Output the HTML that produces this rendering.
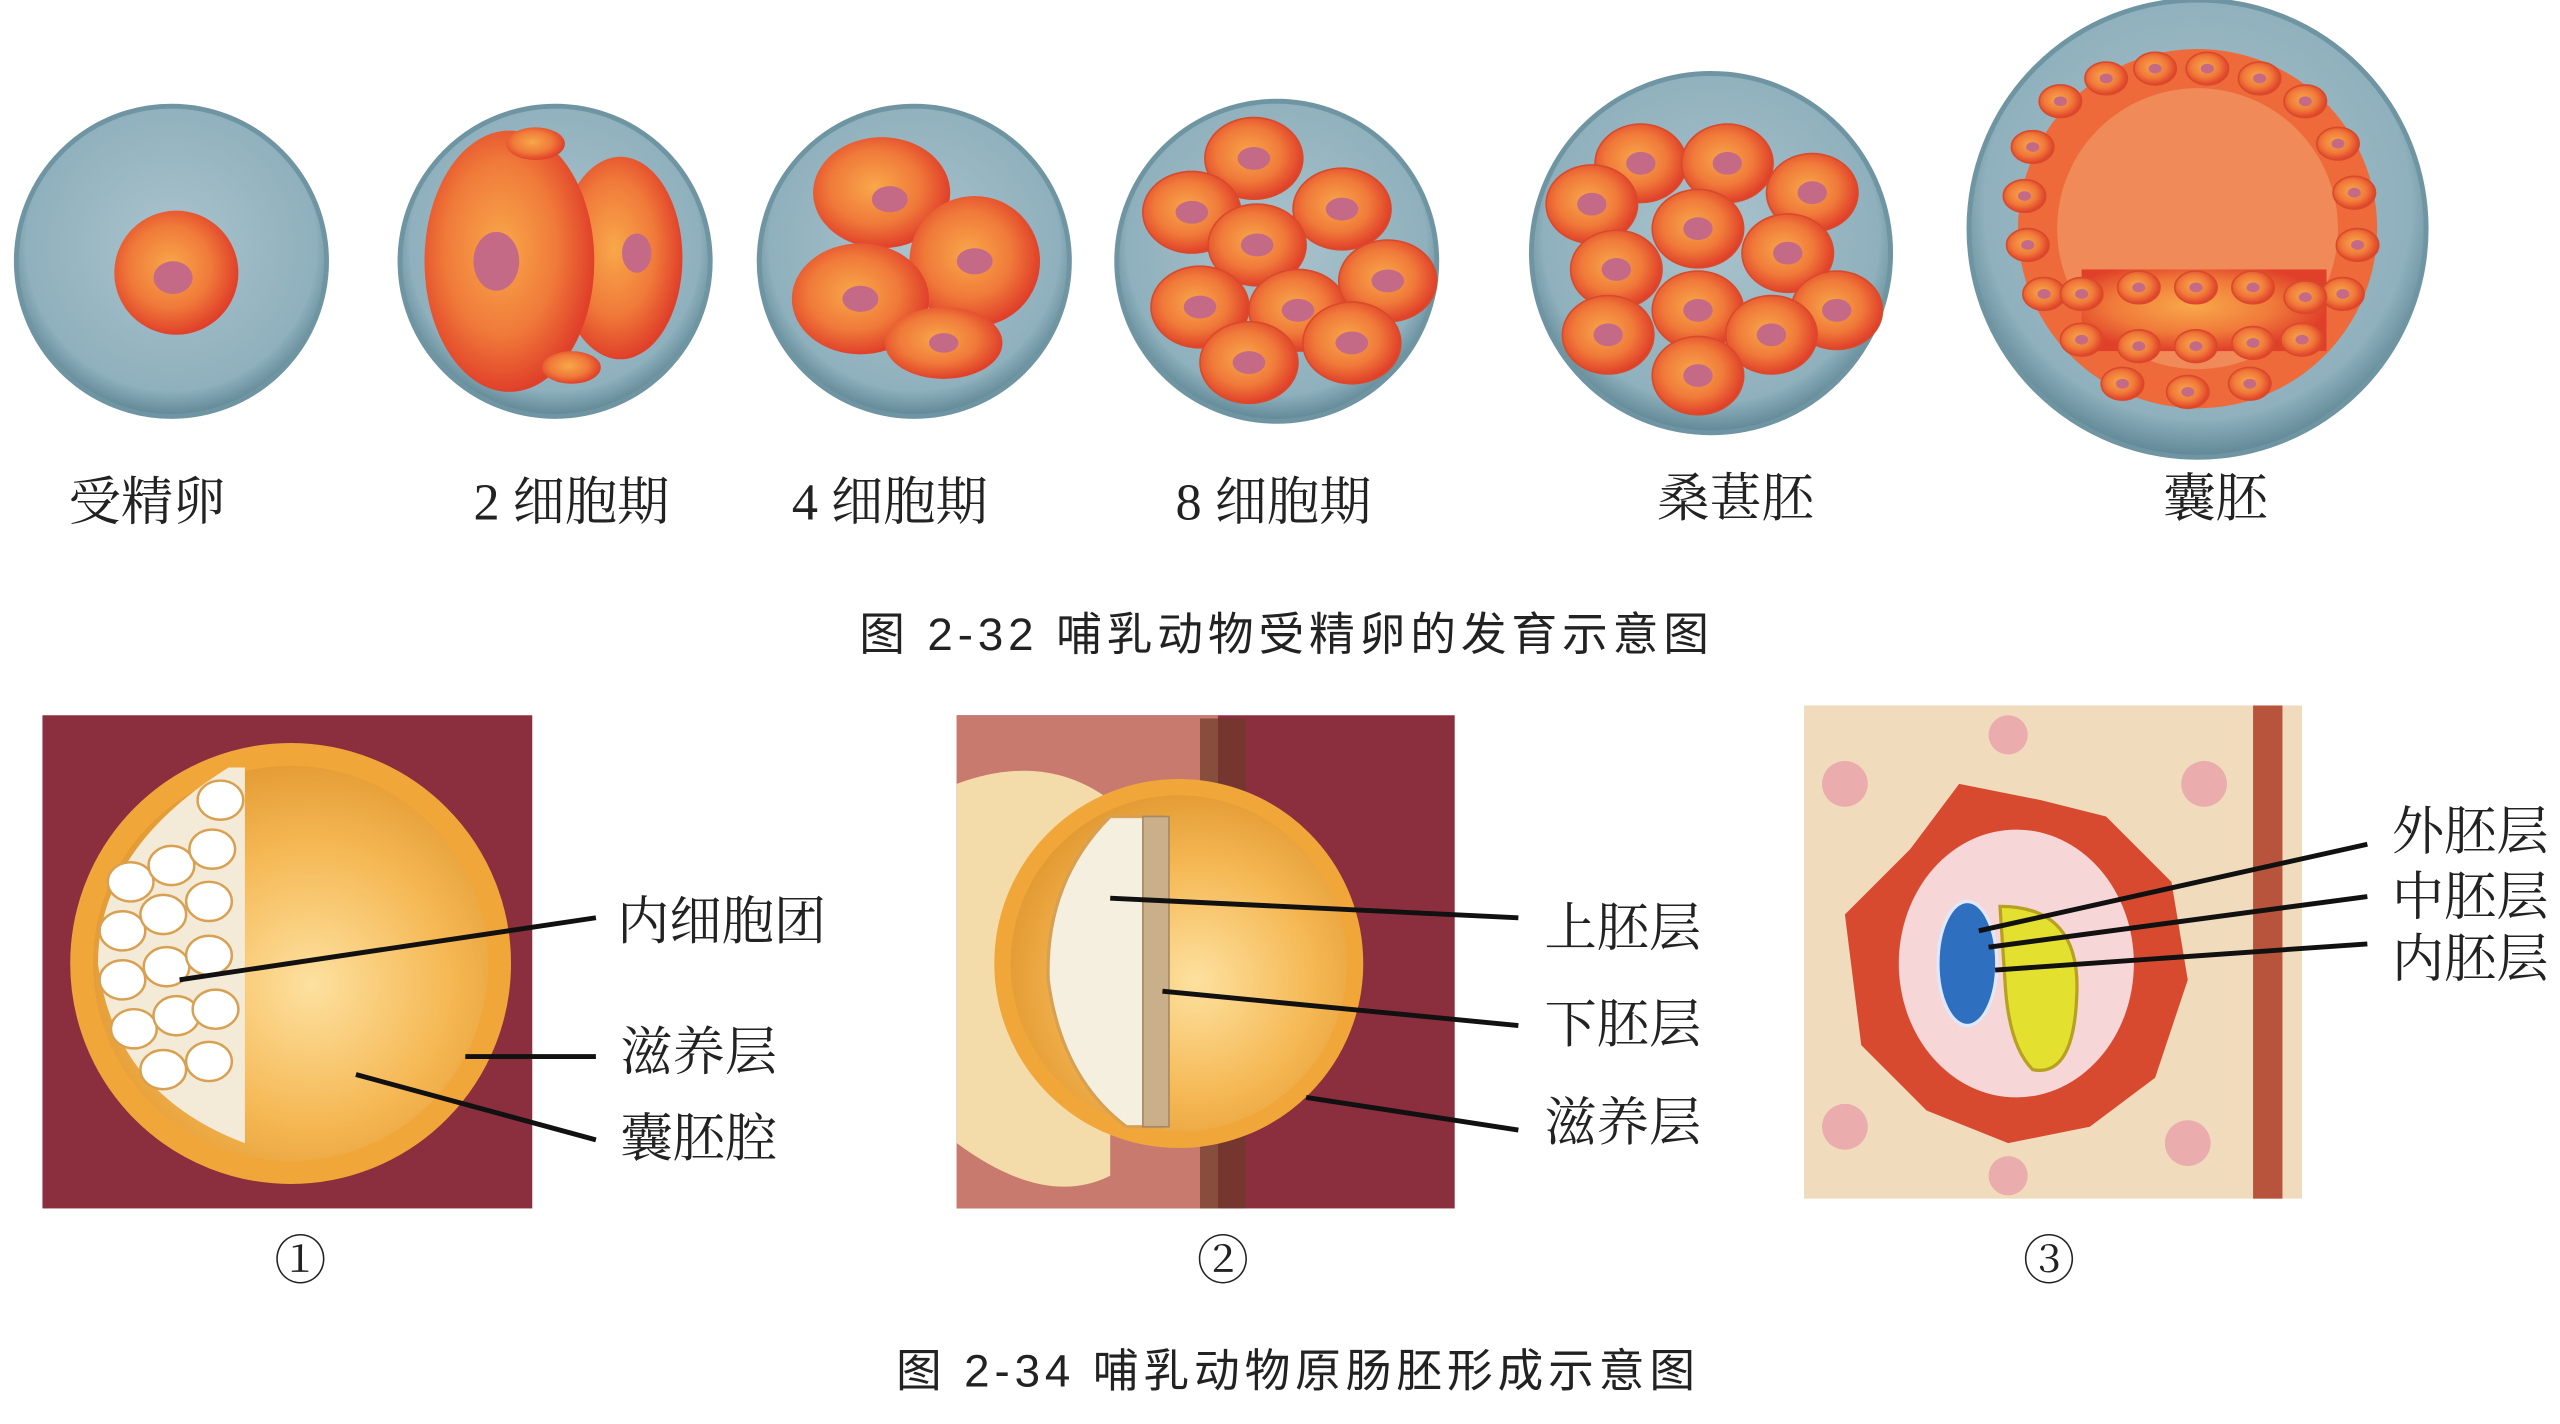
<!DOCTYPE html>
<html><head><meta charset="utf-8"><style>
html,body{margin:0;padding:0;background:#fff;}
svg{display:block;}
text{font-family:"Liberation Serif","Noto Serif CJK SC",serif;fill:#222;}
.cap{font-family:"Liberation Sans","Noto Sans CJK SC",sans-serif;letter-spacing:3px;}
</style></head><body>
<svg width="2560" height="1424" viewBox="0 0 1568 872" preserveAspectRatio="none" xmlns="http://www.w3.org/2000/svg">
<defs>
<radialGradient id="shell" cx="50%" cy="45%" r="55%"><stop offset="0" stop-color="#aac3cc"/><stop offset="0.85" stop-color="#8fb0bd"/><stop offset="1" stop-color="#5f8795"/></radialGradient>
<radialGradient id="cell" cx="45%" cy="45%" r="55%"><stop offset="0" stop-color="#f8a84a"/><stop offset="0.6" stop-color="#f07a3a"/><stop offset="1" stop-color="#e0402a"/></radialGradient>
<radialGradient id="yolk" cx="55%" cy="55%" r="55%"><stop offset="0" stop-color="#fde1a0"/><stop offset="0.6" stop-color="#f5b854"/><stop offset="1" stop-color="#e39a33"/></radialGradient>
<g id="c"><ellipse rx="30" ry="25" fill="url(#cell)" stroke="#d84a2a" stroke-width="1"/><ellipse rx="10" ry="7" fill="#c56a86"/></g>
<g id="m"><ellipse rx="28" ry="24" fill="url(#cell)" stroke="#d84a2a" stroke-width="1"/><ellipse rx="9" ry="7" fill="#c56a86"/></g>
<g id="s"><ellipse rx="13" ry="10" fill="url(#cell)" stroke="#d84a2a" stroke-width="1"/><ellipse rx="4" ry="3" fill="#c56a86"/></g>
</defs>
<rect width="1568" height="872" fill="#fff"/>
<!-- row 1 -->
<circle cx="105" cy="160" r="95" fill="url(#shell)" stroke="#6f95a2" stroke-width="3"/>
<circle cx="108" cy="167" r="38" fill="url(#cell)"/><ellipse cx="106" cy="170" rx="12" ry="10" fill="#c56a86"/>

<circle cx="340" cy="160" r="95" fill="url(#shell)" stroke="#6f95a2" stroke-width="3"/>
<ellipse cx="380" cy="158" rx="38" ry="62" fill="url(#cell)"/>
<ellipse cx="312" cy="160" rx="52" ry="80" fill="url(#cell)"/>
<ellipse cx="304" cy="160" rx="14" ry="18" fill="#c56a86"/><ellipse cx="390" cy="155" rx="9" ry="12" fill="#c56a86"/>
<ellipse cx="328" cy="88" rx="18" ry="10" fill="url(#cell)"/><ellipse cx="350" cy="225" rx="18" ry="10" fill="url(#cell)"/>

<circle cx="560" cy="160" r="95" fill="url(#shell)" stroke="#6f95a2" stroke-width="3"/>
<ellipse cx="540" cy="118" rx="42" ry="34" fill="url(#cell)"/><ellipse cx="597" cy="160" rx="40" ry="40" fill="url(#cell)"/>
<ellipse cx="527" cy="183" rx="42" ry="34" fill="url(#cell)"/><ellipse cx="578" cy="210" rx="36" ry="22" fill="url(#cell)"/>
<ellipse cx="545" cy="122" rx="11" ry="8" fill="#c56a86"/><ellipse cx="597" cy="160" rx="11" ry="8" fill="#c56a86"/><ellipse cx="527" cy="183" rx="11" ry="8" fill="#c56a86"/><ellipse cx="578" cy="210" rx="9" ry="6" fill="#c56a86"/>

<circle cx="782" cy="160" r="98" fill="url(#shell)" stroke="#6f95a2" stroke-width="3"/>
<use href="#c" x="768" y="97"/><use href="#c" x="730" y="130"/><use href="#c" x="822" y="128"/>
<use href="#c" x="770" y="150"/><use href="#c" x="735" y="188"/><use href="#c" x="795" y="190"/>
<use href="#c" x="850" y="172"/><use href="#c" x="765" y="222"/><use href="#c" x="828" y="210"/>

<circle cx="1048" cy="155" r="110" fill="url(#shell)" stroke="#6f95a2" stroke-width="3"/>
<use href="#m" x="1005" y="100"/><use href="#m" x="1058" y="100"/><use href="#m" x="1110" y="118"/><use href="#m" x="975" y="125"/>
<use href="#m" x="1040" y="140"/><use href="#m" x="1095" y="155"/><use href="#m" x="990" y="165"/><use href="#m" x="1125" y="190"/>
<use href="#m" x="1040" y="190"/><use href="#m" x="985" y="205"/><use href="#m" x="1085" y="205"/><use href="#m" x="1040" y="230"/>

<circle cx="1346" cy="140" r="140" fill="url(#shell)" stroke="#6f95a2" stroke-width="3"/>
<circle cx="1346" cy="140" r="110" fill="#ee6a3a"/>
<circle cx="1346" cy="140" r="86" fill="#f08a58"/>
<rect x="1275" y="165" width="150" height="50" fill="url(#cell)"/>
<g>
<use href="#s" x="1290" y="48"/><use href="#s" x="1320" y="42"/><use href="#s" x="1352" y="42"/><use href="#s" x="1384" y="48"/>
<use href="#s" x="1412" y="62"/><use href="#s" x="1432" y="88"/><use href="#s" x="1442" y="118"/><use href="#s" x="1444" y="150"/>
<use href="#s" x="1435" y="180"/><use href="#s" x="1262" y="62"/><use href="#s" x="1245" y="90"/><use href="#s" x="1240" y="120"/>
<use href="#s" x="1242" y="150"/><use href="#s" x="1252" y="180"/>
<use href="#s" x="1275" y="180"/><use href="#s" x="1310" y="176"/><use href="#s" x="1345" y="176"/><use href="#s" x="1380" y="176"/><use href="#s" x="1412" y="182"/>
<use href="#s" x="1275" y="208"/><use href="#s" x="1310" y="212"/><use href="#s" x="1345" y="212"/><use href="#s" x="1380" y="210"/><use href="#s" x="1410" y="208"/>
<use href="#s" x="1300" y="235"/><use href="#s" x="1340" y="240"/><use href="#s" x="1378" y="235"/>
</g>
<g font-size="32" text-anchor="middle">
<text x="90" y="318">受精卵</text><text x="350" y="318">2 细胞期</text><text x="545" y="318">4 细胞期</text>
<text x="780" y="318">8 细胞期</text><text x="1063" y="316">桑葚胚</text><text x="1357" y="316">囊胚</text>
</g>
<text class="cap" x="788" y="398" font-size="28" text-anchor="middle">图 2-32  哺乳动物受精卵的发育示意图</text>

<!-- panel 1 -->
<rect x="26" y="438" width="300" height="302" fill="#8b2e3e"/>
<circle cx="178" cy="590" r="128" fill="url(#yolk)" stroke="#f1a63a" stroke-width="14"/>
<path d="M140 470 Q60 520 60 590 Q70 670 150 700 L150 470 Z" fill="#f3ead8"/>
<g fill="#fff" stroke="#d8a050" stroke-width="1.5">
<ellipse cx="80" cy="540" rx="14" ry="12"/><ellipse cx="105" cy="530" rx="14" ry="12"/><ellipse cx="130" cy="520" rx="14" ry="12"/>
<ellipse cx="75" cy="570" rx="14" ry="12"/><ellipse cx="100" cy="560" rx="14" ry="12"/><ellipse cx="128" cy="552" rx="14" ry="12"/>
<ellipse cx="75" cy="600" rx="14" ry="12"/><ellipse cx="102" cy="592" rx="14" ry="12"/><ellipse cx="128" cy="585" rx="14" ry="12"/>
<ellipse cx="82" cy="630" rx="14" ry="12"/><ellipse cx="108" cy="622" rx="14" ry="12"/><ellipse cx="132" cy="618" rx="14" ry="12"/>
<ellipse cx="100" cy="655" rx="14" ry="12"/><ellipse cx="128" cy="650" rx="14" ry="12"/><ellipse cx="135" cy="490" rx="14" ry="12"/>
</g>
<g stroke="#111" stroke-width="3"><line x1="110" y1="600" x2="365" y2="562"/><line x1="285" y1="647" x2="365" y2="647"/><line x1="218" y1="658" x2="365" y2="698"/></g>
<g font-size="32"><text x="378" y="575">内细胞团</text><text x="380" y="655">滋养层</text><text x="380" y="708">囊胚腔</text></g>

<!-- panel 2 -->
<rect x="586" y="438" width="305" height="302" fill="#8b2e3e"/>
<rect x="586" y="438" width="160" height="302" fill="#c97a6e"/>
<path d="M586 480 Q640 460 680 490 L680 720 Q640 740 586 700 Z" fill="#f4dcaa"/>
<rect x="735" y="440" width="28" height="300" fill="#6b3a28" opacity="0.7"/>
<circle cx="722" cy="590" r="108" fill="url(#yolk)" stroke="#f1a63a" stroke-width="10"/>
<path d="M680 500 Q640 540 642 600 Q650 660 690 690 L712 690 L712 500 Z" fill="#f5efe0" stroke="#d8a050" stroke-width="2"/>
<rect x="700" y="500" width="16" height="190" fill="#c9b08a" stroke="#a88860"/>
<g stroke="#111" stroke-width="3"><line x1="680" y1="550" x2="930" y2="562"/><line x1="712" y1="607" x2="930" y2="628"/><line x1="800" y1="672" x2="930" y2="692"/></g>
<g font-size="32"><text x="946" y="579">上胚层</text><text x="946" y="638">下胚层</text><text x="946" y="698">滋养层</text></g>

<!-- panel 3 -->
<rect x="1105" y="432" width="305" height="302" fill="#f0dcbc"/>
<rect x="1380" y="432" width="18" height="302" fill="#b9543c"/>
<path d="M1130 560 L1170 520 L1200 480 L1250 490 L1290 500 L1330 540 L1340 600 L1320 660 L1280 690 L1230 700 L1180 680 L1140 640 Z" fill="#d84a30"/>
<ellipse cx="1235" cy="590" rx="72" ry="82" fill="#f6d6d6"/>
<path d="M1225 555 Q1275 555 1272 610 Q1270 660 1245 655 Q1230 640 1228 600 Z" fill="#e3e030" stroke="#b8a020" stroke-width="2"/>
<ellipse cx="1205" cy="590" rx="18" ry="38" fill="#2f6fc0" stroke="#e0e8ff" stroke-width="2"/>
<g fill="#e8a0a8" opacity="0.8"><circle cx="1130" cy="480" r="14"/><circle cx="1130" cy="690" r="14"/><circle cx="1350" cy="480" r="14"/><circle cx="1340" cy="700" r="14"/><circle cx="1230" cy="450" r="12"/><circle cx="1230" cy="720" r="12"/></g>
<g stroke="#111" stroke-width="3"><line x1="1212" y1="570" x2="1450" y2="517"/><line x1="1218" y1="580" x2="1450" y2="549"/><line x1="1222" y1="594" x2="1450" y2="578"/></g>
<g font-size="32"><text x="1465" y="520">外胚层</text><text x="1465" y="560">中胚层</text><text x="1465" y="598">内胚层</text></g>

<g font-size="32" text-anchor="middle"><text x="184" y="783">①</text><text x="749" y="783">②</text><text x="1255" y="783">③</text></g>
<text class="cap" x="795" y="849" font-size="28" text-anchor="middle">图 2-34  哺乳动物原肠胚形成示意图</text>
</svg>
</body></html>
